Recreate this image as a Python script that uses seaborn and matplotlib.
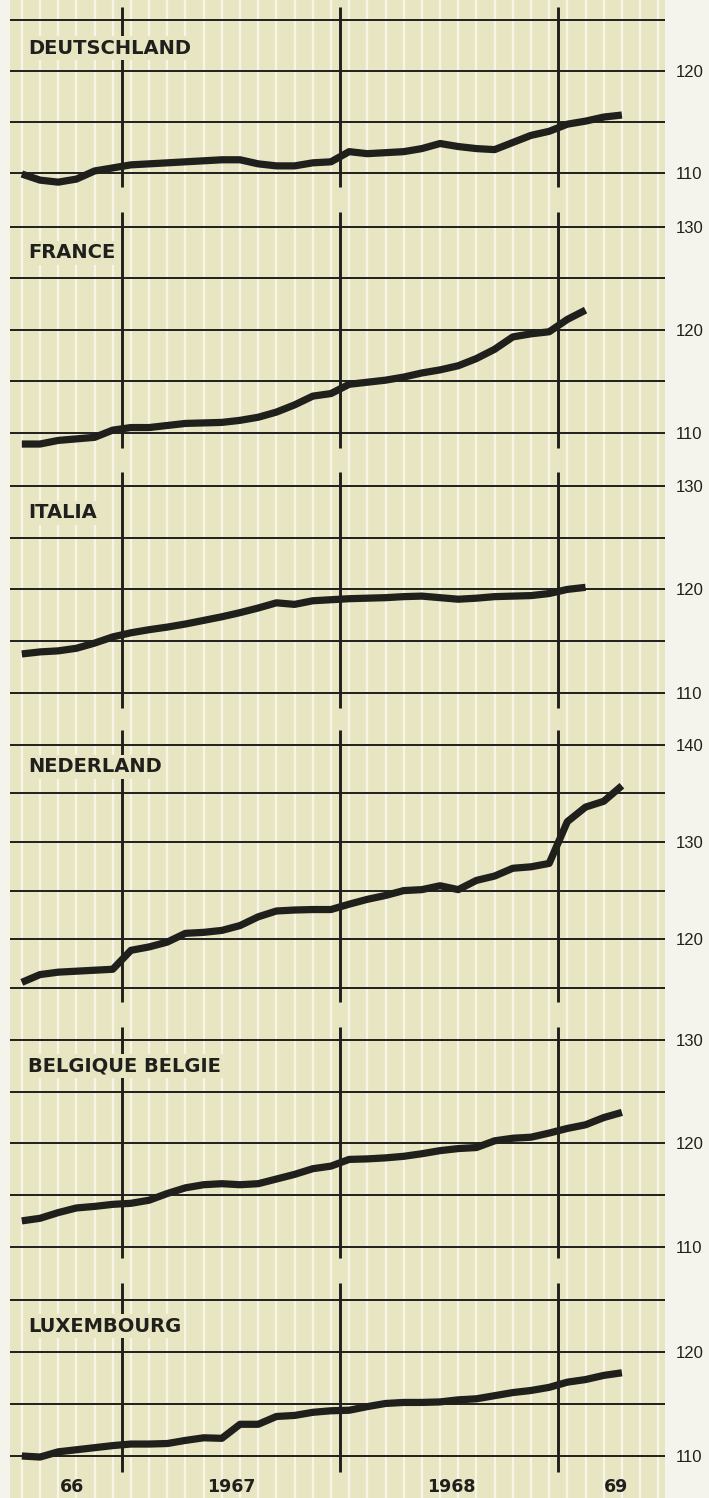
import matplotlib
matplotlib.use("Agg")
import matplotlib.pyplot as plt
import matplotlib.transforms as mtransforms
import numpy as np
import pandas as pd
import seaborn as sns

# ---- data (index values, monthly, Jul 1966 onwards) ----
months = pd.period_range("1966-07", "1969-04", freq="M")

countries = ["DEUTSCHLAND", "FRANCE", "ITALIA", "NEDERLAND",
             "BELGIQUE BELGIE", "LUXEMBOURG"]

deutschland = [109.9, 109.3, 109.1, 109.4, 110.2, 110.5, 110.8, 110.9, 111.0,
               111.1, 111.2, 111.3, 111.3, 110.9, 110.7, 110.7, 111.0, 111.1,
               112.1, 111.9, 112.0, 112.1, 112.4, 112.9, 112.6, 112.4, 112.3,
               113.0, 113.7, 114.1, 114.8, 115.1, 115.5, 115.7]
france = [108.9, 108.9, 109.25, 109.4, 109.55, 110.25, 110.5, 110.5, 110.7,
          110.9, 110.95, 111.0, 111.2, 111.5, 112.0, 112.7, 113.55, 113.8,
          114.7, 114.9, 115.1, 115.4, 115.8, 116.1, 116.5, 117.2, 118.1,
          119.3, 119.6, 119.8, 121.0, 121.9]
italia = [113.75, 113.95, 114.05, 114.3, 114.8, 115.4, 115.8, 116.1, 116.35,
          116.65, 117.0, 117.35, 117.75, 118.2, 118.7, 118.55, 118.9, 119.0,
          119.1, 119.15, 119.2, 119.3, 119.35, 119.2, 119.05, 119.15, 119.3,
          119.35, 119.4, 119.6, 120.0, 120.2]
nederland = [115.55, 116.35, 116.6, 116.7, 116.8, 116.9, 118.85, 119.2, 119.7,
             120.6, 120.7, 120.9, 121.4, 122.3, 122.9, 123.0, 123.05, 123.05,
             123.6, 124.1, 124.5, 125.0, 125.1, 125.5, 125.1, 126.05, 126.5,
             127.3, 127.45, 127.8, 132.1, 133.6, 134.2, 135.8]
belgique = [112.5, 112.75, 113.3, 113.75, 113.9, 114.1, 114.2, 114.5, 115.15,
            115.7, 116.0, 116.1, 116.0, 116.1, 116.55, 117.0, 117.55, 117.8,
            118.45, 118.5, 118.6, 118.75, 119.0, 119.3, 119.5, 119.6, 120.25,
            120.5, 120.6, 121.0, 121.45, 121.8, 122.5, 123.0]
luxembourg = [110.0, 109.9, 110.4, 110.6, 110.8, 111.0, 111.15, 111.15, 111.2,
              111.5, 111.75, 111.7, 113.05, 113.05, 113.8, 113.9, 114.2, 114.35,
              114.4, 114.75, 115.05, 115.15, 115.15, 115.2, 115.4, 115.5, 115.8,
              116.1, 116.3, 116.6, 117.1, 117.35, 117.75, 118.0]
series = [deutschland, france, italia, nederland, belgique, luxembourg]

tick_labels = [[110, 120], [110, 120, 130], [110, 120, 130],
               [120, 130, 140], [110, 120, 130], [110, 120]]
year_labels = ["66", "1967", "1968", "69"]

# month position: months since 1 Jan 1967, at the middle of the month
month_pos = np.array([(p.year - 1967) * 12 + p.month - 1 + 0.5 for p in months])

# ---- layout (pixels of the 709x1498 canvas) ----
W, H = 709, 1498
BEIGE = "#e8e5c3"
STRIPE = "#f7f5e6"
INK = "#1f1f1c"
X0, X1 = 10, 665               # panel left/right edge in px
XLIM = (-6.15, 29.87)          # months since Jan 1967
bands = [(0, 200), (200, 460), (460, 719), (719, 1015), (1015, 1270), (1270, 1498)]
calib = [(110, 173.0, 10.17), (110, 432.7, 10.3), (110, 692.7, 10.33),
         (115, 987.7, 9.71), (110, 1246.7, 10.33), (110, 1456.0, 10.4)]
vspans = [(7, 187), (212, 448), (472, 708), (730, 1002), (1027, 1258), (1283, 1472)]
label_y = [48, 253, 513, 767, 1066, 1326]

sns.set_theme(style="white")
plt.rcParams["font.family"] = ["DejaVu Sans"]

fig = plt.figure(figsize=(W / 100, H / 100), dpi=100, facecolor="#f5f4ec")

stripes = np.arange(-5.5, 30, 1.0)

axes = []
for i, name in enumerate(countries):
    top, bot = bands[i]
    ref, ref_px, ppu = calib[i]
    ytop = ref + (ref_px - top) / ppu
    ybot = ref - (bot - ref_px) / ppu
    ax = fig.add_axes([X0 / W, 1 - bot / H, (X1 - X0) / W, (bot - top) / H])
    ax.set_facecolor(BEIGE)
    ax.set_xlim(*XLIM)
    ax.set_ylim(ybot, ytop)

    # white monthly stripes (run past the edges so bands join up)
    ax.vlines(stripes, ybot - 2, ytop + 2, color=STRIPE, lw=1.7, zorder=1)
    # horizontal rules every 5 points
    for v in np.arange(np.ceil(ybot / 5) * 5, ytop, 5):
        ax.axhline(v, color=INK, lw=1.4, zorder=2)
    # year boundaries
    s_top, s_bot = vspans[i]
    ax.vlines([0, 12, 24], ref - (s_bot - ref_px) / ppu, ref + (ref_px - s_top) / ppu,
              color=INK, lw=2.1, zorder=2)

    vals = series[i]
    sns.lineplot(x=month_pos[:len(vals)], y=vals, ax=ax, color=INK, linewidth=5.2,
                 solid_capstyle="butt", solid_joinstyle="round", zorder=3)

    ax.set_xlabel("")
    ax.set_ylabel("")
    ax.set_xticks([])
    ax.yaxis.tick_right()
    ax.set_yticks(tick_labels[i])
    ax.set_yticklabels([str(t) for t in tick_labels[i]],
                       fontfamily="Liberation Sans", fontsize=12, color=INK)
    ax.tick_params(axis="y", length=0, pad=7.5)
    for sp in ax.spines.values():
        sp.set_visible(False)

    fig.text(28 / W, 1 - label_y[i] / H, name, ha="left", va="center",
             fontsize=14, fontweight="bold", color=INK, zorder=10,
             bbox=dict(boxstyle="square,pad=0.12", fc=BEIGE, ec="none"))
    axes.append(ax)

# year labels under the last panel
trans = mtransforms.blended_transform_factory(axes[-1].transData, fig.transFigure)
for xpos, lab in zip([-2.75, 6.0, 18.1, 27.2], year_labels):
    axes[-1].text(xpos, 1 - 1487 / H, lab, transform=trans, ha="center", va="center",
                  fontsize=12.5, fontweight="bold", color=INK, zorder=10)

fig.savefig("out.png", dpi=100, facecolor=fig.get_facecolor())
